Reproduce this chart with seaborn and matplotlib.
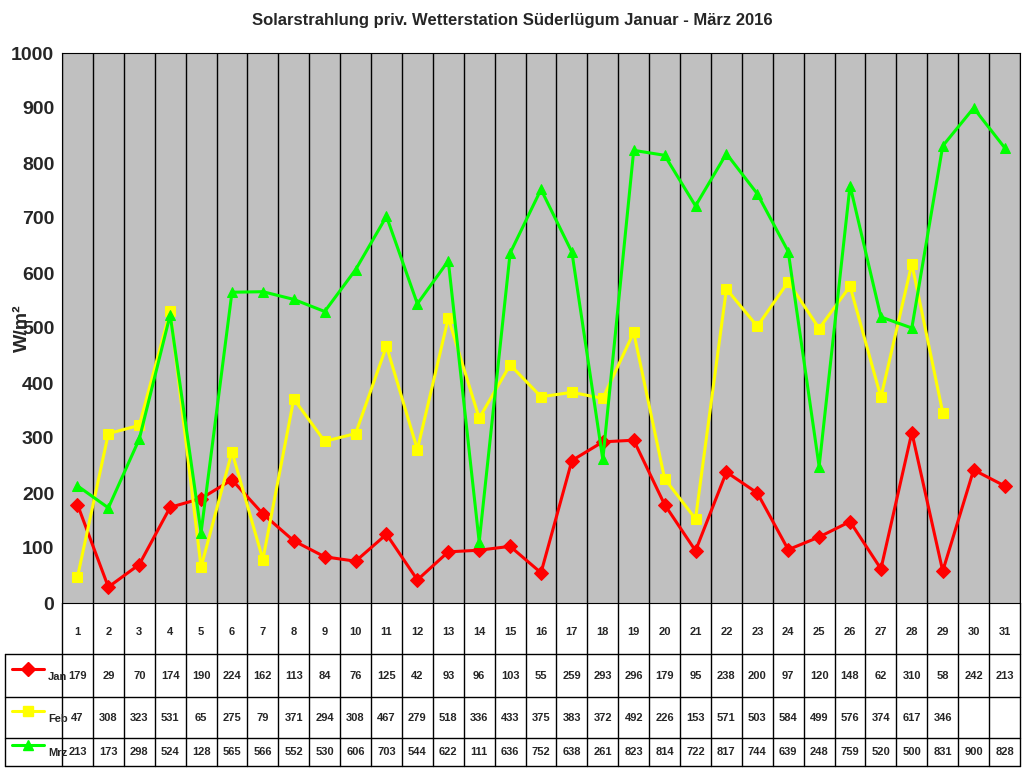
import matplotlib
matplotlib.use("Agg")
import matplotlib.pyplot as plt
import seaborn as sns
import pandas as pd
import numpy as np

days = list(range(1, 32))
jan = [179,29,70,174,190,224,162,113,84,76,125,42,93,96,103,55,259,293,296,179,95,238,200,97,120,148,62,310,58,242,213]
feb = [47,308,323,531,65,275,79,371,294,308,467,279,518,336,433,375,383,372,492,226,153,571,503,584,499,576,374,617,346]
mrz = [213,173,298,524,128,565,566,552,530,606,703,544,622,111,636,752,638,261,823,814,722,817,744,639,248,759,520,500,831,900,828]
series = [("Jan", jan, "#FF0000", "D"), ("Feb", feb, "#FFFF00", "s"), ("Mrz", mrz, "#00FF00", "^")]

sns.set_style("white")
plt.rcParams['font.family'] = ['Liberation Sans', 'DejaVu Sans']
fig = plt.figure(figsize=(10.24, 7.68), dpi=100)
ax = fig.add_axes([62/1024, 1-603/768, 958/1024, 550/768])
ax.set_facecolor("#C0C0C0")

for name, vals, col, mk in series:
    df = pd.DataFrame({"day": days[:len(vals)], "v": vals})
    sns.lineplot(data=df, x="day", y="v", ax=ax, color=col, marker=mk, markersize=7,
                 linewidth=2.2, markeredgecolor=col, zorder=3)

ax.set_xlim(0.5, 31.5)
ax.set_ylim(0, 1000)
ax.set_yticks(range(0, 1001, 100))
ax.set_yticklabels([str(v) for v in range(0, 1001, 100)], fontsize=14, fontweight="bold")
ax.tick_params(axis="y", pad=2)
ax.set_xticks([])
ax.set_xlabel("")
ax.set_ylabel("")
fig.text(22/1024, 1-328/768, "W/m²", rotation=90, ha="center", va="center", fontsize=14, fontweight="bold")
for k in range(32):
    ax.axvline(0.5 + k, color="black", lw=1, zorder=1)
for s in ax.spines.values():
    s.set_color("black")
fig.text(0.5, 1-20/768, "Solarstrahlung priv. Wetterstation Süderlügum Januar - März 2016",
         ha="center", va="center", fontsize=12, fontweight="bold")

# table
tx = fig.add_axes([0, 0, 1, 1-603/768])
tx.set_xlim(0, 1024); tx.set_ylim(768, 603); tx.axis("off")
cw = 958/31
rows_y = [603, 654, 697, 738, 766]
tx.plot([5, 1020], [766, 766], color="black", lw=1)
for y in rows_y[1:4]:
    tx.plot([5, 1020], [y, y], color="black", lw=1)
tx.plot([5, 5], [654, 766], color="black", lw=1)
for k in range(32):
    tx.plot([62 + k*cw]*2, [603, 766], color="black", lw=1)
for i in days:
    tx.text(62 + (i-0.5)*cw, 632, str(i), ha="center", va="center", fontsize=8, fontweight="bold")
for r, (name, vals, col, mk) in enumerate(series):
    yc = [676, 718, 752][r]
    tx.plot([12, 44], [yc-7, yc-7], color=col, lw=2.2)
    tx.plot([28], [yc-7], marker=mk, color=col, markersize=7)
    tx.text(48, yc+1, name, ha="left", va="center", fontsize=8, fontweight="bold")
    for i, v in enumerate(vals):
        tx.text(62 + (i+0.5)*cw, yc, str(v), ha="center", va="center", fontsize=8, fontweight="bold")

fig.savefig("out.png", dpi=100, facecolor="white")
